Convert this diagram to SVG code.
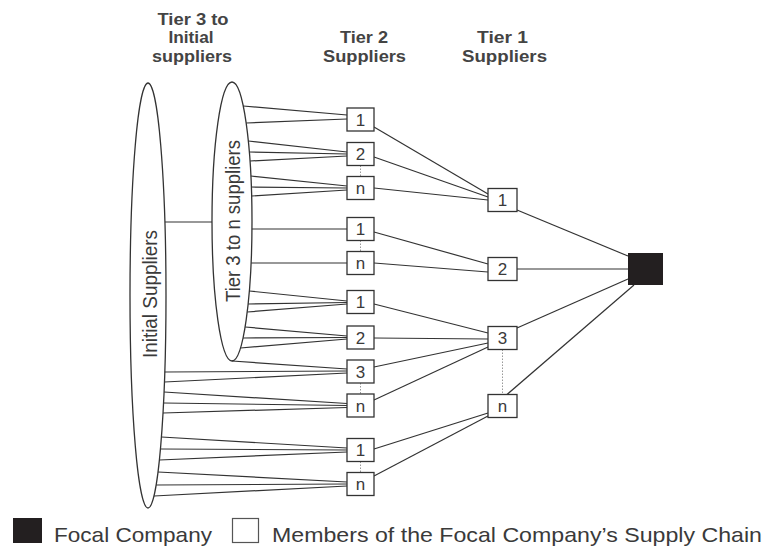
<svg xmlns="http://www.w3.org/2000/svg" width="768" height="548" viewBox="0 0 768 548">
<style>
text{font-family:"Liberation Sans",Arial,sans-serif;fill:#3a3a3a}
.hd{font-size:16px;font-weight:bold;text-anchor:middle;fill:#444}
.lbl{font-size:20px;text-anchor:middle}
.num{font-size:17px;text-anchor:middle}
.leg{font-size:21px}
.box{fill:#fff;stroke:#333;stroke-width:1.3}
.ell{fill:none;stroke:#333;stroke-width:1.3}
#connectors line{stroke:#333;stroke-width:1.2}
#connectors line.dot{stroke:#999;stroke-width:1;stroke-dasharray:1.5 1.5}
</style>
<rect width="768" height="548" fill="#fff"/>
<g id="headers">
<text class="hd" x="193" y="24.5" textLength="71" lengthAdjust="spacingAndGlyphs">Tier 3 to</text>
<text class="hd" x="191" y="43" textLength="45" lengthAdjust="spacingAndGlyphs">Initial</text>
<text class="hd" x="192" y="61.5" textLength="80" lengthAdjust="spacingAndGlyphs">suppliers</text>
<text class="hd" x="364" y="43" textLength="48" lengthAdjust="spacingAndGlyphs">Tier 2</text>
<text class="hd" x="364.5" y="61.5" textLength="83" lengthAdjust="spacingAndGlyphs">Suppliers</text>
<text class="hd" x="502.5" y="43" textLength="51" lengthAdjust="spacingAndGlyphs">Tier 1</text>
<text class="hd" x="504.5" y="61.5" textLength="85" lengthAdjust="spacingAndGlyphs">Suppliers</text>
</g>
<g id="connectors">
<line x1="165" y1="222" x2="212" y2="222"/>
<line x1="243.2" y1="106" x2="347" y2="115"/>
<line x1="246.2" y1="123" x2="347" y2="119"/>
<line x1="248.3" y1="141" x2="347" y2="152"/>
<line x1="249.3" y1="152" x2="347" y2="154"/>
<line x1="250" y1="161" x2="347" y2="156"/>
<line x1="250.9" y1="176" x2="347" y2="186"/>
<line x1="251.4" y1="187" x2="347" y2="188"/>
<line x1="251.7" y1="196" x2="347" y2="190"/>
<line x1="251.9" y1="229" x2="347" y2="229"/>
<line x1="251.1" y1="263" x2="347" y2="263"/>
<line x1="249.3" y1="291" x2="347" y2="301"/>
<line x1="248.1" y1="304" x2="347" y2="302.5"/>
<line x1="247.2" y1="312" x2="347" y2="304"/>
<line x1="245.1" y1="327" x2="347" y2="336"/>
<line x1="243" y1="338" x2="347" y2="337.5"/>
<line x1="240.4" y1="348" x2="347" y2="339"/>
<line x1="232" y1="361" x2="347" y2="369"/>
<line x1="164.8" y1="372" x2="347" y2="371"/>
<line x1="164.4" y1="382" x2="347" y2="373"/>
<line x1="164" y1="392" x2="347" y2="403.5"/>
<line x1="163.5" y1="403" x2="347" y2="405.5"/>
<line x1="163" y1="413" x2="347" y2="407.5"/>
<line x1="161.4" y1="437" x2="347" y2="448"/>
<line x1="160.4" y1="449" x2="347" y2="450"/>
<line x1="159.4" y1="460" x2="347" y2="452"/>
<line x1="158" y1="472" x2="347" y2="482"/>
<line x1="156.2" y1="485" x2="347" y2="484"/>
<line x1="154" y1="496" x2="347" y2="486"/>
<line x1="374" y1="127" x2="488" y2="194"/>
<line x1="374" y1="157" x2="488" y2="197"/>
<line x1="374" y1="188" x2="488" y2="200"/>
<line x1="374" y1="232" x2="488" y2="264"/>
<line x1="374" y1="263" x2="488" y2="272"/>
<line x1="374" y1="304" x2="488" y2="333"/>
<line x1="374" y1="338" x2="488" y2="339"/>
<line x1="374" y1="367" x2="488" y2="343"/>
<line x1="374" y1="400" x2="488" y2="347"/>
<line x1="374" y1="449" x2="488" y2="413"/>
<line x1="374" y1="476" x2="488" y2="416"/>
<line x1="517" y1="210" x2="628" y2="256"/>
<line x1="517" y1="269" x2="628" y2="269"/>
<line x1="517" y1="328" x2="628" y2="279"/>
<line x1="507" y1="394.5" x2="634" y2="285"/>
<line class="dot" x1="360.5" y1="165.5" x2="360.5" y2="176.5"/>
<line class="dot" x1="360.5" y1="240.5" x2="360.5" y2="251.5"/>
<line class="dot" x1="360.5" y1="383" x2="360.5" y2="394"/>
<line class="dot" x1="360.5" y1="461.5" x2="360.5" y2="472.5"/>
<line class="dot" x1="502.5" y1="349.5" x2="502.5" y2="394.5"/>
</g>
<g id="initial-suppliers">
<ellipse class="ell" cx="148" cy="295.5" rx="18" ry="212.5"/>
<text class="lbl" transform="translate(157,294) rotate(-90)" textLength="128" lengthAdjust="spacingAndGlyphs">Initial Suppliers</text>
</g>
<g id="tier3-to-n">
<ellipse class="ell" cx="232" cy="221.5" rx="20" ry="139.5"/>
<text class="lbl" transform="translate(240,221) rotate(-90)" textLength="162" lengthAdjust="spacingAndGlyphs">Tier 3 to n suppliers</text>
</g>
<g id="t2-a1"><rect class="box" x="347" y="108" width="27" height="23"/><text class="num" x="360.5" y="125.5">1</text></g>
<g id="t2-a2"><rect class="box" x="347" y="142.5" width="27" height="23"/><text class="num" x="360.5" y="160">2</text></g>
<g id="t2-an"><rect class="box" x="347" y="176.5" width="27" height="23"/><text class="num" x="360.5" y="194">n</text></g>
<g id="t2-b1"><rect class="box" x="347" y="217.5" width="27" height="23"/><text class="num" x="360.5" y="235">1</text></g>
<g id="t2-bn"><rect class="box" x="347" y="251.5" width="27" height="23"/><text class="num" x="360.5" y="269">n</text></g>
<g id="t2-c1"><rect class="box" x="347" y="290.5" width="27" height="23"/><text class="num" x="360.5" y="308">1</text></g>
<g id="t2-c2"><rect class="box" x="347" y="326" width="27" height="23"/><text class="num" x="360.5" y="343.5">2</text></g>
<g id="t2-c3"><rect class="box" x="347" y="360" width="27" height="23"/><text class="num" x="360.5" y="377.5">3</text></g>
<g id="t2-cn"><rect class="box" x="347" y="394" width="27" height="23"/><text class="num" x="360.5" y="411.5">n</text></g>
<g id="t2-d1"><rect class="box" x="347" y="438.5" width="27" height="23"/><text class="num" x="360.5" y="456">1</text></g>
<g id="t2-dn"><rect class="box" x="347" y="472.5" width="27" height="23"/><text class="num" x="360.5" y="490">n</text></g>
<g id="t1-1"><rect class="box" x="488" y="188.5" width="29" height="23"/><text class="num" x="502.5" y="206">1</text></g>
<g id="t1-2"><rect class="box" x="488" y="257.5" width="29" height="23"/><text class="num" x="502.5" y="275">2</text></g>
<g id="t1-3"><rect class="box" x="488" y="326.5" width="29" height="23"/><text class="num" x="502.5" y="344">3</text></g>
<g id="t1-n"><rect class="box" x="488" y="394.5" width="29" height="23"/><text class="num" x="502.5" y="412">n</text></g>
<g id="focal"><rect x="628" y="253" width="35" height="32" fill="#231f20"/></g>
<g id="legend">
<rect x="13" y="518" width="29" height="25" fill="#231f20"/>
<text class="leg" x="54" y="542" textLength="158" lengthAdjust="spacingAndGlyphs">Focal Company</text>
<rect x="232.5" y="518.5" width="26" height="24" fill="#fff" stroke="#555" stroke-width="1.2"/>
<text class="leg" x="272" y="542" textLength="490" lengthAdjust="spacingAndGlyphs">Members of the Focal Company’s Supply Chain</text>
</g>
</svg>
